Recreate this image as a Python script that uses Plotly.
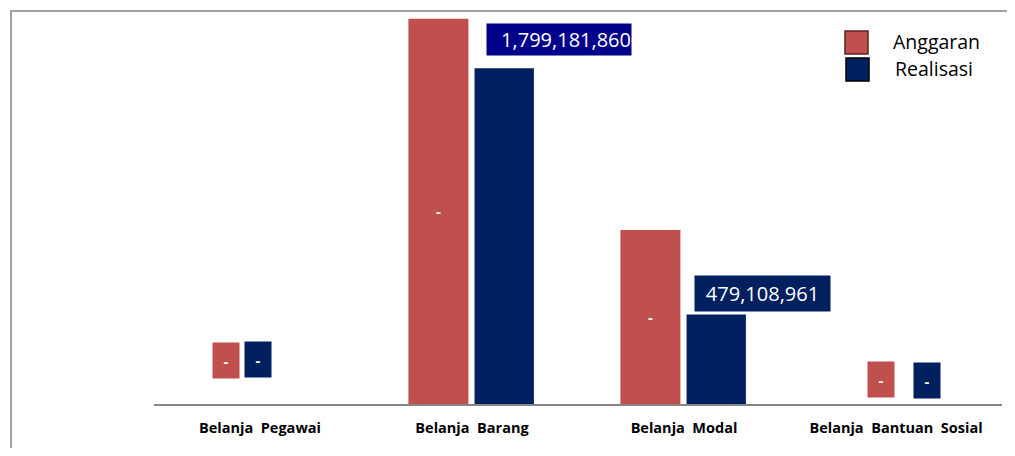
import plotly.graph_objects as go

categories = ["Belanja Pegawai", "Belanja Barang", "Belanja Modal", "Belanja Bantuan Sosial"]
anggaran = [0, 2065000000, 932600000, 0]
realisasi = [0, 1799181860, 479108961, 0]
anggaran_labels = ["-", "-", "-", "-"]
realisasi_labels = ["-", "1,799,181,860", "479,108,961", "-"]
tick_labels = [c.replace(" ", "\u00a0 ") for c in categories]

RED = "#C0504D"
NAVY = "#002060"
FONT = "Open Sans"

# plot area in page pixels: x 154..1002, y 11..404 (page has 8px body margin)
def xp(px):
    return (px - 154) / 848.0

def yp(py):
    return (404 - py) / 393.0

fig = go.Figure()
fig.add_trace(go.Bar(
    x=categories, y=anggaran, name="Anggaran",
    marker=dict(color=RED, line=dict(width=0)),
    width=0.283, offset=-0.300,
    text=[lab if v > 0 else "" for lab, v in zip(anggaran_labels, anggaran)],
    textposition="inside", insidetextanchor="middle",
    textfont=dict(color="white", size=15, family=FONT, weight="bold"),
    textangle=0, showlegend=False, hoverinfo="skip",
))
fig.add_trace(go.Bar(
    x=categories, y=realisasi, name="Realisasi",
    marker=dict(color=NAVY, line=dict(width=0)),
    width=0.280, offset=0.012,
    showlegend=False, hoverinfo="skip",
))

annotations = []
zero_pos = {
    0: ((-34, 44), (-2, 45)),
    3: ((-15, 25), (31, 24)),
}
for i, ((rx, ry), (nx, ny)) in zero_pos.items():
    annotations.append(dict(
        x=categories[i], y=anggaran[i], text=anggaran_labels[i], showarrow=False,
        xshift=rx, yshift=ry, bgcolor=RED, width=26, height=35, borderpad=0,
        font=dict(color="white", size=15, family=FONT, weight="bold"),
    ))
    annotations.append(dict(
        x=categories[i], y=realisasi[i], text=realisasi_labels[i], showarrow=False,
        xshift=nx, yshift=ny, bgcolor=NAVY, width=26, height=35, borderpad=0,
        font=dict(color="white", size=15, family=FONT, weight="bold"),
    ))

annotations.append(dict(
    x=categories[1], y=realisasi[1], text=realisasi_labels[1], showarrow=False,
    xshift=87, yshift=29, bgcolor="#00008B", width=144, height=31, borderpad=0,
    align="right", font=dict(color="white", size=20, family=FONT),
))
annotations.append(dict(
    x=categories[2], y=realisasi[2], text=realisasi_labels[2], showarrow=False,
    xshift=78.5, yshift=21, bgcolor=NAVY, width=135, height=35, borderpad=0,
    align="center", font=dict(color="white", size=20, family=FONT),
))

annotations.append(dict(
    xref="paper", yref="paper", x=xp(891), y=yp(42), xanchor="left", yanchor="middle",
    text="Anggaran", showarrow=False, font=dict(color="#000000", size=19.5, family=FONT),
))
annotations.append(dict(
    xref="paper", yref="paper", x=xp(893), y=yp(68), xanchor="left", yanchor="middle",
    text="Realisasi", showarrow=False, font=dict(color="#000000", size=19.5, family=FONT),
))

shapes = [
    dict(type="rect", xref="paper", yref="paper", x0=xp(845), x1=xp(868), y0=yp(54), y1=yp(31),
         fillcolor=RED, line=dict(color="#5A2220", width=1.5)),
    dict(type="rect", xref="paper", yref="paper", x0=xp(846), x1=xp(869), y0=yp(81), y1=yp(58),
         fillcolor=NAVY, line=dict(color="#000000", width=1.5)),
    dict(type="line", xref="paper", yref="paper", x0=xp(10), x1=xp(1020), y0=yp(11), y1=yp(11),
         line=dict(color="#A0A0A0", width=2)),
    dict(type="line", xref="paper", yref="paper", x0=xp(11), x1=xp(11), y0=yp(11), y1=yp(470),
         line=dict(color="#A0A0A0", width=2)),
]

fig.update_layout(
    width=999, height=440,
    margin=dict(l=146, r=5, t=3, b=44),
    paper_bgcolor="white", plot_bgcolor="white",
    barmode="overlay",
    xaxis=dict(
        type="category", tickvals=categories, ticktext=tick_labels,
        showline=True, linecolor="#868686", linewidth=2,
        ticks="outside", ticklen=10, tickcolor="rgba(0,0,0,0)",
        tickfont=dict(family=FONT, size=14.5, color="#000000", weight="bold"),
        showgrid=False, zeroline=False,
    ),
    yaxis=dict(range=[0, 2106000000], visible=False, showgrid=False, zeroline=False),
    annotations=annotations, shapes=shapes,
)

fig.write_html("out.html")
